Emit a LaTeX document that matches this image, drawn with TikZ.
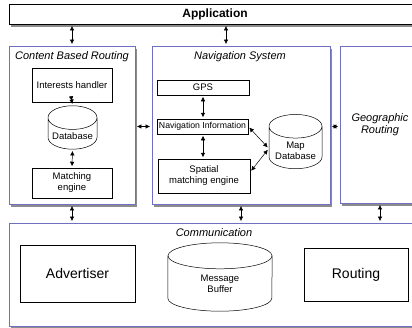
\documentclass[tikz,border=0pt]{standalone}
\usepackage{fontspec}
\setmainfont{Liberation Sans}
\usetikzlibrary{arrows.meta,shapes.geometric,shadows}
\definecolor{layerblue}{RGB}{112,112,192}
\tikzset{
    %Define standard arrow tip
    >={Latex[length=4.5pt,width=4.5pt]},
    %Define style for layers
    layer/.style={
           rectangle,
           draw=layerblue, line width=0.9pt,
           fill=white,
           drop shadow={shadow xshift=2pt, shadow yshift=-2.5pt, fill=black!45, opacity=1}},
    %Define style for boxes
    box/.style={
           rectangle,
           draw=black, line width=0.5pt,
           align=center,
           font=\fontsize{9.5}{11}\selectfont},
    %Define style for databases
    dbase/.style={
           cylinder,
           shape border rotate=90,
           draw=black, line width=0.5pt,
           align=center,
           font=\fontsize{9.5}{11}\selectfont},
    title/.style={
           font=\fontsize{11}{13}\selectfont\itshape},
    % Define arrow style
    both/.style={
           <->,
           line width=0.5pt,
           shorten <=1.5pt,
           shorten >=1.5pt}
}
\begin{document}
\begin{tikzpicture}[x=1pt, y=-1pt]
    \path[use as bounding box, clip] (0,0) rectangle (412,327);
 %layers
    \node[layer, draw=black, minimum width=412pt, minimum height=20pt,
          font=\fontsize{12}{14}\selectfont\bfseries] (app) at (215,14) {Application};
    \node[layer, minimum width=126pt, minimum height=158pt] (cbr) at (72,125) {};
    \node[layer, minimum width=178pt, minimum height=158pt] (nav) at (241,125) {};
    \node[layer, minimum width=80pt, minimum height=157pt, align=center,
          font=\fontsize{11}{12.5}\selectfont\itshape] (geo) at (380,124.5) {Geographic\\Routing};
    \node[layer, minimum width=412pt, minimum height=103pt] (comm) at (215,274.5) {};
    \node[title] (cbrtitle) at (72,57) {Content Based Routing};
    \node[title] (navtitle) at (240,57) {Navigation System};
    \node[title] (commtitle) at (214,233) {Communication};
 %nodes
    \node[box, minimum width=80pt, minimum height=34pt] (ih) at (72,85) {Interests handler};
    \node[dbase, aspect=0.5, minimum width=49pt, minimum height=40pt] (db) at (72.5,136.5) {Database};
    \node[box, minimum width=80pt, minimum height=30pt] (me) at (72,183) {Matching\\engine};
    \node[box, minimum width=92pt, minimum height=15pt, inner sep=1pt] (gps) at (203,87.5) {GPS};
    \node[box, minimum width=91pt, minimum height=15pt, inner sep=1pt,
          font=\fontsize{8.7}{10}\selectfont] (ni) at (202.5,126.5) {Navigation Information};
    \node[box, minimum width=92pt, minimum height=34pt] (sme) at (204,176) {Spatial\\matching engine};
    \node[dbase, aspect=0.5, minimum width=53pt, minimum height=54pt] (mdb) at (295.5,150.5) {Map\\Database};
    \node[box, minimum width=115pt, minimum height=57pt,
          font=\fontsize{14}{16}\selectfont] (adv) at (77.5,273.5) {Advertiser};
    \node[minimum width=104pt, minimum height=68pt, inner sep=0pt] (mb) at (220,277) {};
    \draw[line width=0.5pt] ([yshift=-13pt]mb.north) ellipse [x radius=52pt, y radius=13pt];
    \draw[line width=0.5pt] ([yshift=-13pt]mb.north west) -- ([yshift=13pt]mb.south west)
          arc[start angle=180, end angle=360, x radius=52pt, y radius=13pt]
          -- ([yshift=-13pt]mb.north east);
    \node[align=center, font=\fontsize{9.5}{11}\selectfont] (mbtext) at (220,284) {Message\\Buffer};
    \node[box, minimum width=104pt, minimum height=53pt,
          font=\fontsize{14}{16}\selectfont] (rt) at (356,274.5) {Routing};
 %edges
    \draw[both] (cbr.north |- app.south) to (cbr.north);
    \draw[both] ([xshift=-15pt]nav.north |- app.south) to ([xshift=-15pt]nav.north);
    \draw[both] (ih.south) to (db.north);
    \draw[both] (db.south) to (me.north);
    \draw[both] (cbr.east |- ni) to (nav.west |- ni);
    \draw[both] (nav.east |- ni) to (geo.west |- ni);
    \draw[both] (gps.south) to (gps.south |- ni.north);
    \draw[both] (gps.south |- ni.south) to (gps.south |- sme.north);
    \draw[both] (ni.east) to ([yshift=2pt]mdb.west);
    \draw[both] ([yshift=4pt]sme.east) to ([yshift=2pt]mdb.west);
    \draw[both] (cbr.south) to (cbr.south |- comm.north);
    \draw[both] (nav.south) to (nav.south |- comm.north);
    \draw[both] (geo.south) to (geo.south |- comm.north);
\end{tikzpicture}
\end{document}
